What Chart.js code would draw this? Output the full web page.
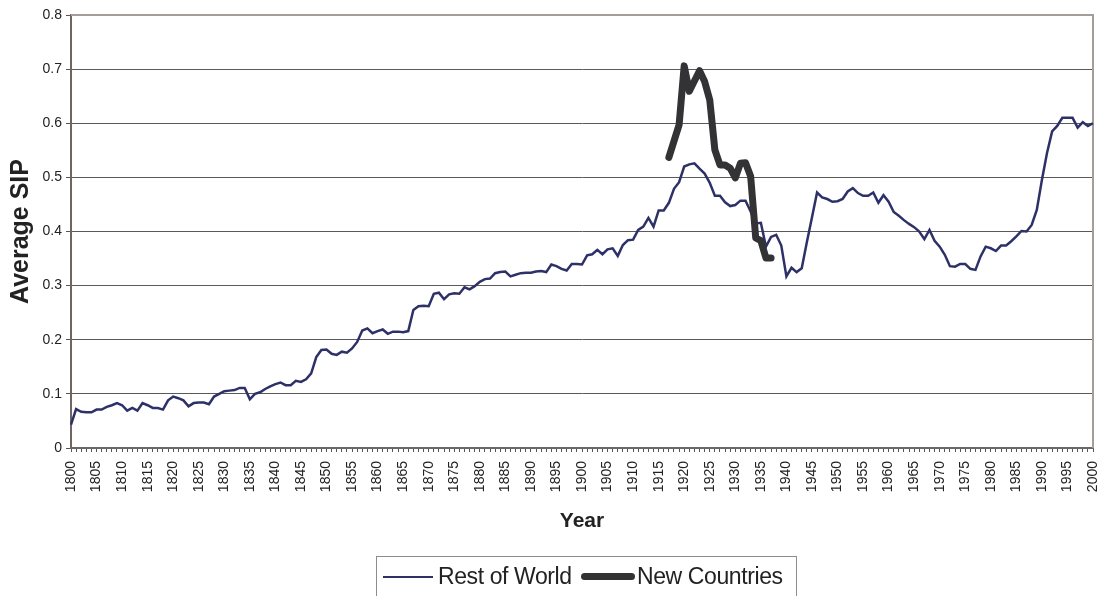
<!DOCTYPE html>
<html>
<head>
<meta charset="utf-8">
<script src="https://cdn.jsdelivr.net/npm/chart.js@4.4.1/dist/chart.umd.min.js"></script>
<style>
  html, body { margin: 0; padding: 0; background: #fff; overflow: hidden; }
  #wrap { position: relative; width: 1099px; height: 596px; }
  #legend { position: absolute; left: 376px; top: 556px; width: 421px; height: 60px; border: 1px solid #8c8c8c; box-sizing: border-box; }
  .sample { position: absolute; }
  .label { position: absolute; font-family: "Liberation Sans", Arial, sans-serif; font-size: 23px; line-height: 23px; letter-spacing: -0.4px; color: #222; white-space: nowrap; }
</style>
</head>
<body>
<div id="wrap">
  <canvas id="chart" width="1099" height="596"></canvas>
  <div id="legend"></div>
  <div class="sample" style="left:383px; top:576px; width:50px; height:0; border-top:2.5px solid #2e3168;"></div>
  <div class="label" style="left:438px; top:565px;">Rest of World</div>
  <div class="sample" style="left:581px; top:573px; width:54px; height:7px; border-radius:4px; background:#333335;"></div>
  <div class="label" style="left:637px; top:565px;">New Countries</div>
</div>
<script>
// anos do eixo x
const years = Array.from({ length: 201 }, (_, i) => String(1800 + i));

// Rest of World, 1800-2000
const restOfWorld = [
  0.043, 0.072, 0.067, 0.066, 0.066, 0.071, 0.071, 0.076, 0.079, 0.083,
  0.079, 0.069, 0.074, 0.069, 0.083, 0.079, 0.074, 0.074, 0.071, 0.088,
  0.095, 0.092, 0.088, 0.077, 0.083, 0.084, 0.084, 0.081, 0.095, 0.100,
  0.105, 0.106, 0.107, 0.111, 0.111, 0.090, 0.100, 0.103, 0.109, 0.114,
  0.118, 0.121, 0.116, 0.116, 0.124, 0.122, 0.127, 0.138, 0.168, 0.181,
  0.182, 0.174, 0.172, 0.178, 0.176, 0.184, 0.196, 0.217, 0.221, 0.212,
  0.216, 0.219, 0.211, 0.215, 0.215, 0.214, 0.216, 0.255, 0.262, 0.263,
  0.262, 0.285, 0.287, 0.275, 0.284, 0.286, 0.285, 0.297, 0.293, 0.299,
  0.307, 0.312, 0.313, 0.323, 0.325, 0.326, 0.317, 0.320, 0.323, 0.324,
  0.324, 0.326, 0.327, 0.325, 0.339, 0.336, 0.331, 0.328, 0.340, 0.340,
  0.339, 0.356, 0.358, 0.366, 0.358, 0.367, 0.369, 0.355, 0.375, 0.384,
  0.385, 0.403, 0.409, 0.425, 0.409, 0.439, 0.439, 0.453, 0.479, 0.491,
  0.520, 0.524, 0.526, 0.516, 0.507, 0.490, 0.466, 0.466, 0.454, 0.447,
  0.449, 0.457, 0.457, 0.437, 0.415, 0.416, 0.372, 0.390, 0.394, 0.374,
  0.317, 0.333, 0.325, 0.332, 0.380, 0.426, 0.472, 0.463, 0.460, 0.455,
  0.456, 0.460, 0.474, 0.480, 0.471, 0.466, 0.466, 0.472, 0.453, 0.467,
  0.455, 0.436, 0.429, 0.421, 0.414, 0.408, 0.400, 0.386, 0.403, 0.383,
  0.372, 0.357, 0.336, 0.335, 0.340, 0.340, 0.331, 0.329, 0.354, 0.372,
  0.369, 0.364, 0.374, 0.374, 0.382, 0.391, 0.401, 0.400, 0.412, 0.440,
  0.495, 0.545, 0.585, 0.595, 0.610, 0.610, 0.610, 0.592, 0.602, 0.595,
  0.600
];

// New Countries, 1917-1937
const newCountriesStart = 1917;
const newCountries = [
  0.537, 0.567, 0.597, 0.706, 0.659, 0.678, 0.697, 0.677, 0.643, 0.551,
  0.523, 0.523, 0.517, 0.499, 0.526, 0.527, 0.502, 0.388, 0.383, 0.351,
  0.351
];

const newCountriesSeries = years.map(y => {
  const k = Number(y) - newCountriesStart;
  return k >= 0 && k < newCountries.length ? newCountries[k] : null;
});

// moldura cinza em cima e na direita
const frame = {
  id: 'frame',
  beforeDatasetsDraw(chart) {
    const { ctx, chartArea: a } = chart;
    ctx.save();
    ctx.strokeStyle = '#a69d99';
    ctx.lineWidth = 2;
    ctx.beginPath();
    ctx.moveTo(a.left, a.top);
    ctx.lineTo(a.right, a.top);
    ctx.lineTo(a.right, a.bottom);
    ctx.stroke();
    ctx.restore();
  }
};

Chart.defaults.font.family = '"Liberation Sans", Arial, sans-serif';
Chart.defaults.color = '#222';

const ctx = document.getElementById('chart').getContext('2d');
new Chart(ctx, {
  type: 'line',
  data: {
    labels: years,
    datasets: [
      {
        label: 'Rest of World',
        data: restOfWorld,
        borderColor: '#2e3168',
        borderWidth: 2.5,
        pointRadius: 0,
        tension: 0,
        order: 1
      },
      {
        label: 'New Countries',
        data: newCountriesSeries,
        borderColor: '#333335',
        borderWidth: 7,
        borderCapStyle: 'round',
        borderJoinStyle: 'round',
        pointRadius: 0,
        tension: 0,
        spanGaps: false,
        order: 0
      }
    ]
  },
  options: {
    responsive: false,
    animation: false,
    events: [],
    layout: { padding: { left: 0, top: 15, right: 6, bottom: 62 } },
    plugins: {
      legend: { display: false },
      tooltip: { enabled: false }
    },
    scales: {
      x: {
        type: 'category',
        offset: false,
        grid: { display: true, drawOnChartArea: false, drawTicks: true, tickLength: 4, tickColor: '#555', color: '#555' },
        border: { display: true, color: '#6e6662', width: 2 },
        ticks: {
          autoSkip: false,
          minRotation: 90,
          maxRotation: 90,
          padding: 9,
          font: { size: 14 },
          color: '#222',
          callback: (v, i) => (Number(years[i]) % 5 === 0 ? years[i] : '')
        },
        title: { display: true, text: 'Year', font: { size: 21, weight: 'bold' }, color: '#222', padding: { top: 0, bottom: 0 } },
        afterFit: s => {
          s.height = 86;
          s.paddingLeft = 0;
          s.paddingRight = 0;
        }
      },
      y: {
        min: 0,
        max: 0.8,
        ticks: {
          stepSize: 0.1,
          padding: 4,
          font: { size: 14 },
          color: '#222',
          callback: v => (v === 0 ? '0' : v.toFixed(1))
        },
        grid: {
          color: c => (c.tick && c.tick.value > 0.79 ? 'rgba(0,0,0,0)' : '#5a5a5a'),
          lineWidth: 1,
          tickLength: 5,
          tickColor: '#555'
        },
        border: { color: '#6e6662', width: 2 },
        title: { display: true, text: 'Average SIP', font: { size: 25, weight: 'bold' }, color: '#222', padding: { top: 6, bottom: 0 } },
        afterFit: s => {
          s.width = 71;
          s.paddingTop = 0;
          s.paddingBottom = 0;
        }
      }
    }
  },
  plugins: [frame]
});
</script>
</body>
</html>
